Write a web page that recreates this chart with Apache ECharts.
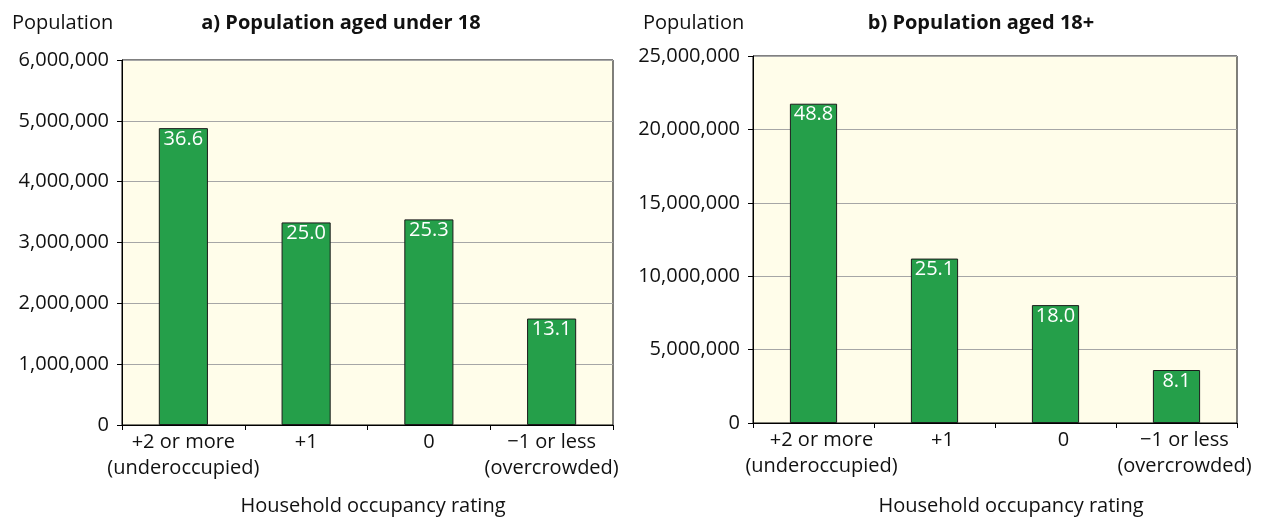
<!DOCTYPE html>
<html>
<head>
<meta charset="utf-8">
<script src="https://cdn.jsdelivr.net/npm/echarts@6/dist/echarts.min.js"></script>
<style>
  html, body { margin: 0; padding: 0; background: #fff; }
  #main { width: 1268px; height: 517px; }
</style>
</head>
<body>
<div id="main"></div>
<script>
// categories (household occupancy rating)
var categories = ['+2 or more\n(underoccupied)', '+1', '0', '\u22121 or less\n(overcrowded)'];

// a) population aged under 18
var under18 = [4880000, 3330000, 3380000, 1750000];
var under18Pct = ['36.6', '25.0', '25.3', '13.1'];

// b) population aged 18+
var adults = [21750000, 11200000, 8030000, 3610000];
var adultsPct = ['48.8', '25.1', '18.0', '8.1'];

var FONT = 'Open Sans';
var green = '#259f4a';

function fmtNum(v) {
    return v.toLocaleString('en-US');
}

var myChart = echarts.init(document.getElementById('main'));

function yAxisCfg(idx, max, interval) {
    return {
        type: 'value',
        gridIndex: idx,
        min: 0,
        max: max,
        interval: interval,
        axisLine: { show: true, lineStyle: { color: '#000', width: 1 } },
        axisTick: { show: true, length: 5, lineStyle: { color: '#000' } },
        axisLabel: { color: '#111', fontSize: 20, fontFamily: FONT, margin: 13, formatter: fmtNum },
        splitLine: { show: true, lineStyle: { color: '#a6a6a6', width: 1 } }
    };
}

function xAxisCfg(idx, pad) {
    return {
        type: 'category',
        gridIndex: idx,
        data: categories,
        axisLine: { show: true, lineStyle: { color: '#000', width: 1 } },
        axisTick: { show: true, length: 5, alignWithLabel: false, lineStyle: { color: '#000' } },
        axisLabel: { color: '#111', fontSize: 20, fontFamily: FONT, interval: 0, margin: 4, lineHeight: 26, padding: [0, 0, 0, pad] },
        splitLine: { show: false }
    };
}

function seriesCfg(idx, data, pct, width) {
    return {
        type: 'bar',
        xAxisIndex: idx,
        yAxisIndex: idx,
        data: data,
        barWidth: width,
        itemStyle: { color: green, borderColor: '#1b1b1b', borderWidth: 1 },
        label: {
            show: true,
            position: 'insideTop',
            distance: 1,
            color: '#fff',
            fontSize: 20,
            fontFamily: FONT,
            formatter: function (p) { return pct[p.dataIndex]; }
        },
        silent: true
    };
}

var txt = { fontSize: 20, fontWeight: 'normal', fontFamily: FONT, color: '#111' };
var bold = { fontSize: 20, fontWeight: 'bold', fontFamily: FONT, color: '#111' };

var option = {
    backgroundColor: '#fff',
    animation: false,
    title: [
        { text: 'Population', left: 7, top: 8, textStyle: txt },
        { text: 'a) Population aged under 18', left: 336, top: 8, textAlign: 'center', textStyle: bold },
        { text: 'Household occupancy rating', left: 368, top: 491, textAlign: 'center', textStyle: txt },
        { text: 'Population', left: 638, top: 8, textStyle: txt },
        { text: 'b) Population aged 18+', left: 976, top: 8, textAlign: 'center', textStyle: bold },
        { text: 'Household occupancy rating', left: 1006, top: 491, textAlign: 'center', textStyle: txt }
    ],
    grid: [
        { left: 122, right: 655, top: 60, bottom: 92, show: true, backgroundColor: '#fffdea', borderColor: '#000', borderWidth: 1 },
        { left: 753, right: 31, top: 56, bottom: 94, show: true, backgroundColor: '#fffdea', borderColor: '#000', borderWidth: 1 }
    ],
    xAxis: [xAxisCfg(0, 0), xAxisCfg(1, 16)],
    yAxis: [yAxisCfg(0, 6000000, 1000000), yAxisCfg(1, 25000000, 5000000)],
    series: [
        seriesCfg(0, under18, under18Pct, '40%'),
        seriesCfg(1, adults, adultsPct, '39%')
    ]
};

myChart.clear();
myChart.setOption(option);
</script>
</body>
</html>
